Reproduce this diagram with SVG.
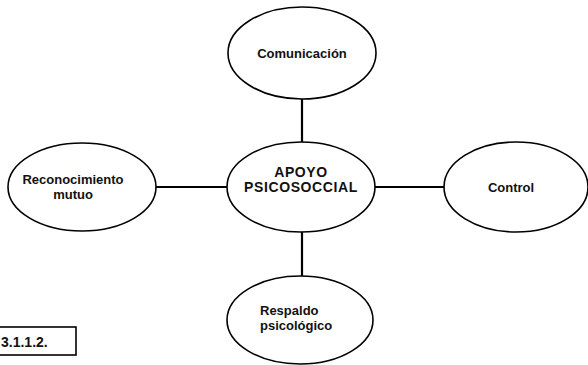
<svg xmlns="http://www.w3.org/2000/svg" width="588" height="365" viewBox="0 0 588 365">
<style>
.n{fill:#fff;stroke:#000;stroke-width:1.6}
.t{font-family:"Liberation Sans",Arial,sans-serif;font-size:13px;font-weight:bold;fill:#111}
.c{font-family:"Liberation Sans",Arial,sans-serif;font-size:14px;font-weight:bold;fill:#111;letter-spacing:0.6px}
.e{stroke:#000;stroke-width:2.2;fill:none}
</style>
<rect width="588" height="365" fill="#fff"/>
<g id="connectors">
<line class="e" x1="302" y1="98" x2="302" y2="142"/>
<line class="e" x1="302" y1="232" x2="302" y2="276"/>
<line class="e" x1="156" y1="187" x2="227" y2="187"/>
<line class="e" x1="375" y1="187" x2="444" y2="187"/>
</g>
<g id="comunicacion">
<ellipse class="n" cx="302" cy="53" rx="74" ry="46"/>
<text class="t" x="302" y="58" text-anchor="middle">Comunicación</text>
</g>
<g id="apoyo">
<ellipse class="n" cx="301" cy="187" rx="74" ry="45"/>
<text class="c" x="301" y="177" text-anchor="middle">APOYO</text>
<text class="c" x="301" y="192" text-anchor="middle">PSICOSOCCIAL</text>
</g>
<g id="reconocimiento">
<ellipse class="n" cx="82" cy="187" rx="74" ry="44"/>
<text class="t" x="73" y="184" text-anchor="middle">Reconocimiento</text>
<text class="t" x="73" y="199" text-anchor="middle">mutuo</text>
</g>
<g id="control">
<ellipse class="n" cx="516" cy="187" rx="72" ry="45"/>
<text class="t" x="511" y="192" text-anchor="middle">Control</text>
</g>
<g id="respaldo">
<ellipse class="n" cx="300" cy="320" rx="73" ry="44"/>
<text class="t" x="260" y="315">Respaldo</text>
<text class="t" x="260" y="330">psicológico</text>
</g>
<g id="label">
<rect x="-5" y="327" width="81" height="28" fill="#fff" stroke="#000" stroke-width="1.6"/>
<text class="t" x="1" y="347" style="font-size:14px">3.1.1.2.</text>
</g>
</svg>
